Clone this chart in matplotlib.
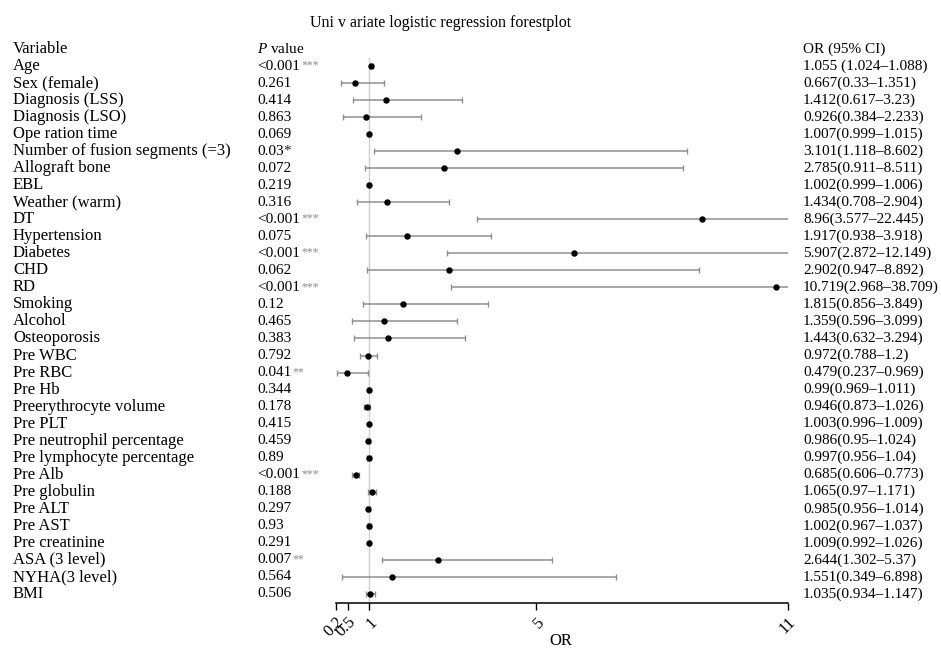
import matplotlib
matplotlib.use("Agg")
import matplotlib.pyplot as plt
from matplotlib.transforms import blended_transform_factory

plt.rcParams['font.family'] = ['Liberation Serif', 'DejaVu Serif']
plt.rcParams['mathtext.fontset'] = 'custom'
plt.rcParams['mathtext.rm'] = 'Liberation Serif'
plt.rcParams['mathtext.it'] = 'Liberation Serif:italic'

variables = ["Age", "Sex (female)", "Diagnosis (LSS)", "Diagnosis (LSO)", "Ope ration time",
             "Number of fusion segments (=3)", "Allograft bone", "EBL", "Weather (warm)", "DT",
             "Hypertension", "Diabetes", "CHD", "RD", "Smoking", "Alcohol", "Osteoporosis",
             "Pre WBC", "Pre RBC", "Pre Hb", "Preerythrocyte volume", "Pre PLT",
             "Pre neutrophil percentage", "Pre lymphocyte percentage", "Pre Alb", "Pre globulin",
             "Pre ALT", "Pre AST", "Pre creatinine", "ASA (3 level)", "NYHA(3 level)", "BMI"]
p_values = ["<0.001", "0.261", "0.414", "0.863", "0.069", "0.03", "0.072", "0.219", "0.316",
            "<0.001", "0.075", "<0.001", "0.062", "<0.001", "0.12", "0.465", "0.383", "0.792",
            "0.041", "0.344", "0.178", "0.415", "0.459", "0.89", "<0.001", "0.188", "0.297",
            "0.93", "0.291", "0.007", "0.564", "0.506"]
stars = ["***", "", "", "", "", "*", "", "", "", "***", "", "***", "", "***", "", "", "", "",
         "**", "", "", "", "", "", "***", "", "", "", "", "**", "", ""]
odds = [1.055, 0.667, 1.412, 0.926, 1.007, 3.101, 2.785, 1.002, 1.434, 8.96, 1.917, 5.907,
        2.902, 10.719, 1.815, 1.359, 1.443, 0.972, 0.479, 0.99, 0.946, 1.003, 0.986, 0.997,
        0.685, 1.065, 0.985, 1.002, 1.009, 2.644, 1.551, 1.035]
lower = [1.024, 0.33, 0.617, 0.384, 0.999, 1.118, 0.911, 0.999, 0.708, 3.577, 0.938, 2.872,
         0.947, 2.968, 0.856, 0.596, 0.632, 0.788, 0.237, 0.969, 0.873, 0.996, 0.95, 0.956,
         0.606, 0.97, 0.956, 0.967, 0.992, 1.302, 0.349, 0.934]
upper = [1.088, 1.351, 3.23, 2.233, 1.015, 8.602, 8.511, 1.006, 2.904, 22.445, 3.918, 12.149,
         8.892, 38.709, 3.849, 3.099, 3.294, 1.2, 0.969, 1.011, 1.026, 1.009, 1.024, 1.04,
         0.773, 1.171, 1.014, 1.037, 1.026, 5.37, 6.898, 1.147]
x_ticks = [0.2, 0.5, 1, 5, 11]
x_ticklabels = ["0.2", "0.5", "1", "5", "11"]

W, H = 941, 650
fig = plt.figure(figsize=(W / 100, H / 100), dpi=100)
x0, x1 = 335.5, 787.7
y_top, y_bot = 58, 603
ax = fig.add_axes([x0 / W, 1 - y_bot / H, (x1 - x0) / W, (y_bot - y_top) / H])

n = len(variables)
row0, step = 66, 17.03
ylo = (y_bot - row0) / step
yhi = (y_top - row0) / step
ax.set_ylim(ylo, yhi)
ax.set_xlim(0.2, 11)

rows = list(range(n))
ax.axvline(1, color='#cfcfcf', lw=1.0, zorder=1)
err_lo = [o - l for o, l in zip(odds, lower)]
err_hi = [u - o for o, u in zip(odds, upper)]
ax.errorbar(odds, rows, xerr=[err_lo, err_hi], fmt='o', color='black', ms=3.6,
            ecolor='#8f8f8f', elinewidth=1.1, capsize=2.5, capthick=1.0, zorder=3)

for s in ['top', 'right', 'left']:
    ax.spines[s].set_visible(False)
ax.spines['bottom'].set_linewidth(1.1)
ax.set_yticks([])
ax.set_xticks(x_ticks)
ax.set_xticklabels(x_ticklabels, rotation=45, ha='right', va='top',
                   rotation_mode='anchor', fontsize=12)
ax.tick_params(axis='x', length=5, width=1.0, pad=3)

tr = blended_transform_factory(fig.transFigure, ax.transData)
fs = 12
fn = 11
va = 'center'
col_var, col_p, col_or = 13 / W, 257 / W, 803 / W
hdr = -1
ax.text(col_var, hdr, "Variable", transform=tr, fontsize=fs, va=va, ha='left', clip_on=False)
ax.text(col_p, hdr, "$P$ value", transform=tr, fontsize=fn, va=va, ha='left', clip_on=False)
ax.text(col_or, hdr, "OR (95% CI)", transform=tr, fontsize=fn, va=va, ha='left', clip_on=False)

for i in range(n):
    ax.text(col_var, i, variables[i], transform=tr, fontsize=fs, va=va, ha='left', clip_on=False)
    t = ax.text(col_p, i, p_values[i], transform=tr, fontsize=fn, va=va, ha='left', clip_on=False)
    if stars[i] == "*":
        ax.annotate("*", xy=(1, 0.5), xycoords=t, fontsize=fn, va='center', ha='left', color='#222222')
    elif stars[i]:
        ax.annotate(stars[i], xy=(1.0, 1.0), xycoords=t, xytext=(1, 0), textcoords='offset points',
                    fontsize=8.5, va='top', ha='left', color='#8a8a8a')
    sep = " " if i == 0 else ""
    ax.text(col_or, i, f"{odds[i]}{sep}({lower[i]}\u2013{upper[i]})", transform=tr, fontsize=fn,
            va=va, ha='left', clip_on=False)

fig.text(310 / W, 1 - 23 / H, "Uni v ariate logistic regression forestplot", fontsize=11.5,
         ha='left', va='center')
fig.text(561 / W, 1 - 641 / H, "OR", fontsize=12, ha='center', va='center')

fig.savefig("out.png", dpi=100)
